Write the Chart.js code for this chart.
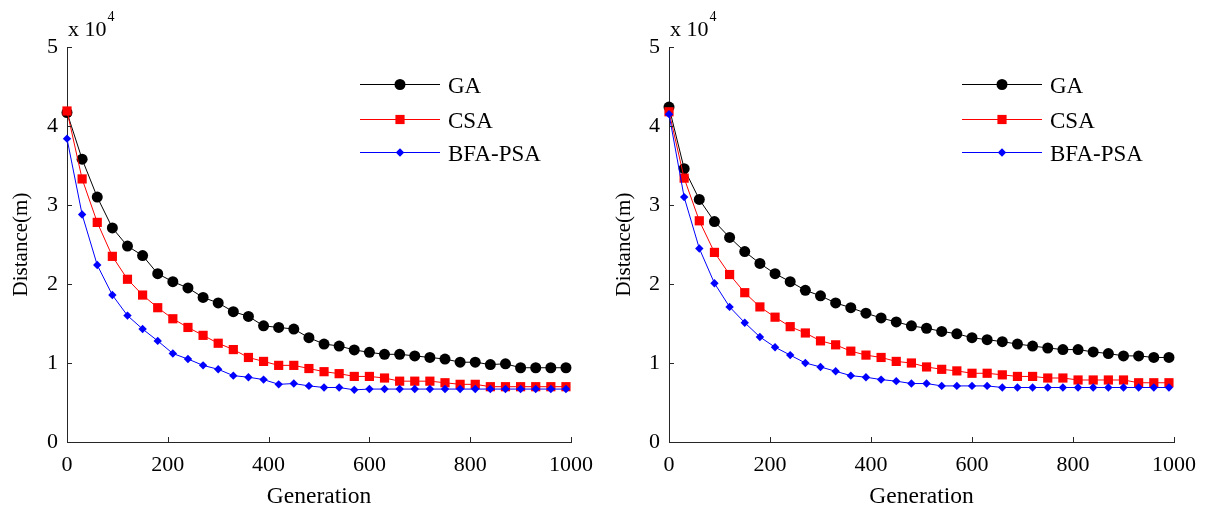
<!DOCTYPE html>
<html>
<head>
<meta charset="utf-8">
<script src="https://cdn.jsdelivr.net/npm/chart.js@4.4.0/dist/chart.umd.min.js"></script>
<style>
  html, body { margin: 0; padding: 0; background: #fff; }
  #wrap { position: relative; width: 1206px; height: 511px; overflow: hidden; }
  canvas { position: absolute; top: 0; }
</style>
</head>
<body>
<div id="wrap">
  <canvas id="left" width="603" height="511" style="left:0"></canvas>
  <canvas id="right" width="603" height="511" style="left:603px"></canvas>
</div>
<script>
// generation of each marker
const generations = [0, 30, 60, 90, 120, 150, 180, 210, 240, 270,
  300, 330, 360, 390, 420, 450, 480, 510, 540, 570,
  600, 630, 660, 690, 720, 750, 780, 810, 840, 870,
  900, 930, 960, 990];

// distance, in units of 10^4 m (axis shows "x 10^4")
// left panel
const leftGA  = [4.17, 3.58, 3.10, 2.71, 2.48, 2.36, 2.13, 2.03, 1.95, 1.83,
  1.76, 1.65, 1.59, 1.47, 1.45, 1.43, 1.32, 1.24, 1.215, 1.165,
  1.135, 1.11, 1.11, 1.09, 1.07, 1.05, 1.01, 1.01, 0.98, 0.99,
  0.94, 0.94, 0.94, 0.94];
const leftCSA = [4.19, 3.33, 2.78, 2.35, 2.06, 1.86, 1.70, 1.56, 1.45, 1.35,
  1.25, 1.17, 1.07, 1.02, 0.97, 0.97, 0.93, 0.89, 0.865, 0.83,
  0.83, 0.81, 0.77, 0.77, 0.77, 0.75, 0.73, 0.73, 0.70, 0.70,
  0.70, 0.70, 0.70, 0.70];
const leftBFA = [3.84, 2.88, 2.24, 1.86, 1.60, 1.43, 1.28, 1.12, 1.05, 0.97,
  0.92, 0.84, 0.82, 0.79, 0.73, 0.74, 0.71, 0.69, 0.69, 0.66,
  0.67, 0.67, 0.67, 0.67, 0.67, 0.67, 0.67, 0.67, 0.67, 0.67,
  0.67, 0.67, 0.67, 0.67];

// right panel
const rightGA  = [4.24, 3.46, 3.07, 2.79, 2.59, 2.41, 2.26, 2.13, 2.03, 1.92,
  1.85, 1.76, 1.70, 1.63, 1.57, 1.52, 1.47, 1.44, 1.40, 1.37,
  1.32, 1.295, 1.27, 1.24, 1.215, 1.19, 1.17, 1.17, 1.14, 1.12,
  1.09, 1.09, 1.07, 1.07];
const rightCSA = [4.18, 3.34, 2.80, 2.40, 2.12, 1.89, 1.71, 1.58, 1.46, 1.38,
  1.28, 1.23, 1.15, 1.10, 1.07, 1.02, 1.00, 0.95, 0.92, 0.90,
  0.87, 0.87, 0.85, 0.83, 0.83, 0.81, 0.81, 0.785, 0.785, 0.785,
  0.785, 0.75, 0.75, 0.75];
const rightBFA = [4.15, 3.10, 2.45, 2.01, 1.71, 1.51, 1.33, 1.20, 1.10, 1.00,
  0.95, 0.895, 0.84, 0.82, 0.79, 0.77, 0.74, 0.74, 0.71, 0.71,
  0.71, 0.71, 0.69, 0.69, 0.69, 0.69, 0.69, 0.69, 0.69, 0.69,
  0.69, 0.69, 0.69, 0.69];

const seriesNames = ['GA', 'CSA', 'BFA-PSA'];
const xTitle = 'Generation';
const yTitle = 'Distance(m)';

const SERIF = "'Liberation Serif', 'Times New Roman', serif";
const AXIS = '#262626';
const styles = [
  { color: '#000000', point: 'circle',  r: 5.5, order: 3 },
  { color: '#ff0000', point: 'rect',    r: 6.5, order: 2 },
  { color: '#0000ff', point: 'rectRot', r: 4.2, order: 1 }
];

// inward ticks, exponent label and the legend box inside the axes
const matlabLook = {
  id: 'matlabLook',
  afterDraw(chart) {
    const { ctx, chartArea: a, scales: { x, y } } = chart;
    ctx.save();
    ctx.strokeStyle = AXIS;
    ctx.lineWidth = 1;
    ctx.beginPath();
    x.ticks.forEach(t => {
      const px = Math.round(x.getPixelForValue(t.value)) + 0.5;
      ctx.moveTo(px, a.bottom); ctx.lineTo(px, a.bottom - 5);
    });
    y.ticks.forEach(t => {
      const py = Math.round(y.getPixelForValue(t.value)) + 0.5;
      ctx.moveTo(a.left, py); ctx.lineTo(a.left + 5, py);
    });
    ctx.stroke();

    // x 10^4
    ctx.fillStyle = '#000';
    ctx.textAlign = 'left';
    ctx.textBaseline = 'alphabetic';
    ctx.font = '22px ' + SERIF;
    ctx.fillText('x 10', a.left + 1, 36);
    const w = ctx.measureText('x 10').width;
    ctx.font = '14px ' + SERIF;
    ctx.fillText('4', a.left + 2 + w, 21);

    // legend
    const lx = a.left + 293;
    const rows = [84, 119, 152];
    chart.data.datasets.forEach((ds, i) => {
      const yy = rows[i] + 0.5;
      ctx.strokeStyle = ds.borderColor;
      ctx.beginPath();
      ctx.moveTo(lx, yy); ctx.lineTo(lx + 80, yy);
      ctx.stroke();
      ctx.fillStyle = ds.pointBackgroundColor;
      Chart.helpers.drawPoint(ctx, { pointStyle: ds.pointStyle, radius: ds.pointRadius, borderWidth: 0, rotation: 0 }, lx + 40, yy);
      ctx.fillStyle = '#000';
      ctx.font = '23px ' + SERIF;
      ctx.textBaseline = 'middle';
      ctx.fillText(ds.label, lx + 88, rows[i] + 2.5);
    });
    ctx.restore();
  }
};

function makeChart(id, series, axisW, padRight) {
  const datasets = series.map((vals, i) => ({
    label: seriesNames[i],
    data: generations.map((g, k) => ({ x: g, y: vals[k] })),
    borderColor: styles[i].color,
    backgroundColor: styles[i].color,
    pointBackgroundColor: styles[i].color,
    pointBorderWidth: 0,
    pointStyle: styles[i].point,
    pointRadius: styles[i].r,
    borderWidth: 1,
    tension: 0,
    clip: false,
    order: styles[i].order
  }));
  const tickFont = { family: SERIF, size: 22 };
  return new Chart(document.getElementById(id), {
    type: 'line',
    data: { datasets },
    options: {
      responsive: false,
      animation: false,
      devicePixelRatio: 1,
      layout: { padding: { top: 47, right: padRight, bottom: 0, left: 0 } },
      plugins: { legend: { display: false }, tooltip: { enabled: false } },
      scales: {
        x: {
          type: 'linear', min: 0, max: 1000,
          ticks: { stepSize: 200, padding: 10, font: tickFont, color: '#000', maxRotation: 0, autoSkip: false,
                   callback: v => String(v) },
          grid: { display: false, drawTicks: false },
          border: { display: true, color: AXIS, width: 1 },
          title: { display: true, text: xTitle, font: { family: SERIF, size: 23.5 }, color: '#000', padding: { top: 0, bottom: 0 } },
          afterFit(s) { s.height = 69; }
        },
        y: {
          type: 'linear', min: 0, max: 5,
          ticks: { stepSize: 1, padding: 9, font: tickFont, color: '#000', callback: v => String(v) },
          grid: { display: false, drawTicks: false },
          border: { display: true, color: AXIS, width: 1 },
          title: { display: true, text: yTitle, font: { family: SERIF, size: 21 }, color: '#000', padding: { top: 9, bottom: 0 } },
          afterFit(s) { s.width = axisW; }
        }
      }
    },
    plugins: [matlabLook]
  });
}

makeChart('left', [leftGA, leftCSA, leftBFA], 67, 30);
makeChart('right', [rightGA, rightCSA, rightBFA], 66, 32);
</script>
</body>
</html>
